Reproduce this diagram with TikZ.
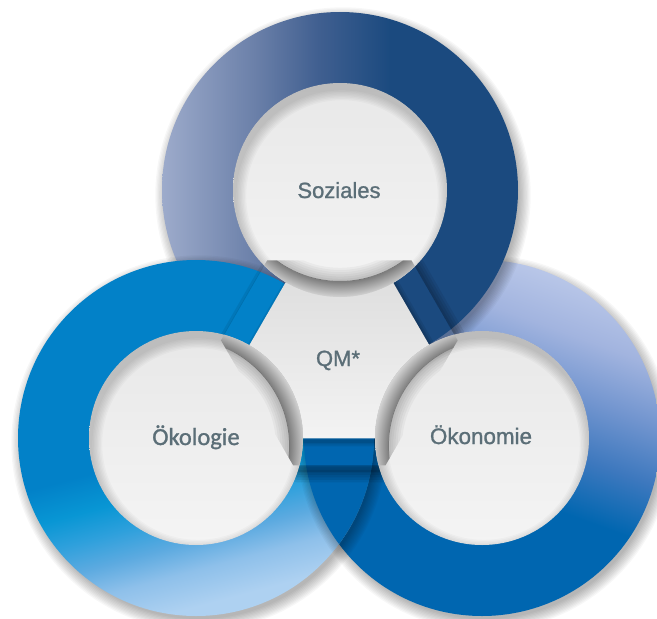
\documentclass[tikz,border=0pt]{standalone}
\usepackage{fontspec}
\setmainfont{Liberation Sans}
\newfontfamily\lblfont{Liberation Sans}[FakeBold=1.1]
\newfontfamily\calfont{Carlito}[FakeBold=1.1]
\usetikzlibrary{calc}

\definecolor{txtc}{HTML}{5B6E77}
\definecolor{tA}{HTML}{9DABCB}
\definecolor{tB}{HTML}{6B80A9}
\definecolor{tC}{HTML}{405F90}
\definecolor{tD}{HTML}{1B4A7F}
\definecolor{lA}{HTML}{AED1F1}
\definecolor{lA2}{HTML}{8EC0EA}
\definecolor{lB}{HTML}{5CAAE0}
\definecolor{lC}{HTML}{2EA0DC}
\definecolor{lD}{HTML}{0896D4}
\definecolor{lE}{HTML}{0281C8}
\definecolor{rA}{HTML}{0066B0}
\definecolor{rB}{HTML}{3D78BE}
\definecolor{rC}{HTML}{7295CF}
\definecolor{rD}{HTML}{A2B4DF}
\definecolor{rE}{HTML}{B8C6E8}
\definecolor{cD}{HTML}{7C7C7C}
\definecolor{cL}{HTML}{D4D4D4}
\definecolor{panT}{HTML}{DCDCDC}
\definecolor{panB}{HTML}{F3F3F3}
\definecolor{dT}{HTML}{E8E8E8}
\definecolor{dB}{HTML}{F4F4F4}

\pgfdeclarehorizontalshading{topring}{100bp}{color(0bp)=(tA); color(25bp)=(tA); color(38bp)=(tB); color(47bp)=(tC); color(57bp)=(tD); color(100bp)=(tD)}
\pgfdeclareverticalshading{leftring}{100bp}{color(0bp)=(lA); color(27bp)=(lA); color(32bp)=(lA2); color(36bp)=(lB); color(40bp)=(lC); color(44bp)=(lD); color(49bp)=(lE); color(100bp)=(lE)}
\pgfdeclareverticalshading{rightring}{100bp}{color(0bp)=(rA); color(44bp)=(rA); color(52bp)=(rB); color(60bp)=(rC); color(68bp)=(rD); color(75bp)=(rE); color(100bp)=(rE)}
\pgfdeclareradialshading{cres}{\pgfpointorigin}{color(0bp)=(cD); color(20.6bp)=(cD); color(23.7bp)=(cL); color(50bp)=(cL)}

\tikzset{
  lbl/.style={text=txtc, inner sep=0pt, anchor=base},
}

\newcommand{\discshadow}[2]{%
  \foreach \k in {0,...,9}{\fill[black,opacity=0.03] ($(#1)+(3,5)$) circle ({#2-2+\k*1.3});}}

\newcommand{\hole}[2]{% center, shifted center
  \shade[top color=dT, bottom color=dB] (#1) circle (107);
  \begin{scope}
    \clip (#1) circle (107);
    \foreach \k in {1,...,8}{\fill[black,opacity=0.025,even odd rule] (#1) circle (130) ($(#1)+(2,6)$) circle ({107-\k*1.4});}
    \clip (h1)--(h2)--(h3)--(h4)--(h5)--(h6)--cycle;
    \begin{scope}[even odd rule]
      \clip (#1) circle (140) (#2) circle (107);
      \shade[shading=cres] (#2) circle (130);
    \end{scope}
    \foreach \k in {1,...,6}{\fill[black,opacity=0.035,even odd rule] (#2) circle (107) (#2) circle ({107-\k*2.2});}
  \end{scope}}

\begin{document}
\begin{tikzpicture}[x=1pt,y=-1pt]
\useasboundingbox (0,0) rectangle (657,619);
\fill[white] (0,0) rectangle (657,619);
\coordinate (T) at (340,190);
\coordinate (L) at (196,438);
\coordinate (R) at (482,438);
\coordinate (C) at (339.33,355.33);
\coordinate (Tp) at (340,174);
\coordinate (Lp) at (182.14,446);
\coordinate (Rp) at (495.86,446);
% hexagon
\coordinate (h1) at ($(C)+(-127.22:119.3)$);
\coordinate (h2) at ($(C)+(-52.78:119.3)$);
\coordinate (h3) at ($(C)+(-7.22:119.3)$);
\coordinate (h4) at ($(C)+(67.22:119.3)$);
\coordinate (h5) at ($(C)+(112.78:119.3)$);
\coordinate (h6) at ($(C)+(187.22:119.3)$);
% inner panel
\coordinate (p1) at ($(C)+(-113.34:103.47)$);
\coordinate (p2) at ($(C)+(-66.66:103.47)$);
\coordinate (p3) at ($(C)+(6.66:103.47)$);
\coordinate (p4) at ($(C)+(53.34:103.47)$);
\coordinate (p5) at ($(C)+(126.66:103.47)$);
\coordinate (p6) at ($(C)+(173.34:103.47)$);

% rings (cyclic overlap: left over top over right over left)
\discshadow{R}{178}
\shade[shading=rightring, shading angle=-20] (R) circle (178);
\discshadow{T}{178}
\shade[shading=topring] (T) circle (178);
\discshadow{L}{178}
\shade[shading=leftring, shading angle=15] (L) circle (178);
\begin{scope}
  \clip (L) circle (178);
  \discshadow{R}{178}
  \shade[shading=rightring, shading angle=-20] (R) circle (178);
\end{scope}

% panel shadow outside hexagon
\begin{scope}[even odd rule]
  \clip (-10,-10) rectangle (667,629) (h1)--(h2)--(h3)--(h4)--(h5)--(h6)--cycle;
  \begin{scope}[transform canvas={shift={(4,7)}}]
    \foreach \w in {20,15,10,5}{\draw[black,opacity=0.07,line width=\w pt,line join=round] (h1)--(h2)--(h3)--(h4)--(h5)--(h6)--cycle;}
    \fill[black,opacity=0.15] (h1)--(h2)--(h3)--(h4)--(h5)--(h6)--cycle;
  \end{scope}
\end{scope}
% inner panel shadow on strips
\begin{scope}
  \clip (h1)--(h2)--(h3)--(h4)--(h5)--(h6)--cycle;
  \begin{scope}[transform canvas={shift={(2,3)}}]
    \foreach \w in {10,6,3}{\draw[black,opacity=0.08,line width=\w pt,line join=round] (p1)--(p2)--(p3)--(p4)--(p5)--(p6)--cycle;}
  \end{scope}
\end{scope}
% inner panel
\shade[top color=panT, bottom color=panB] (p1)--(p2)--(p3)--(p4)--(p5)--(p6)--cycle;

% holes
\hole{T}{Tp}
\hole{L}{Lp}
\hole{R}{Rp}

% labels
\node[lbl, font=\lblfont\fontsize{22}{24}\selectfont] (soz) at (339,198) {Soziales};
\node[lbl, font=\calfont\fontsize{24.5}{26}\selectfont] (oek) at (196,445) {Ökologie};
\node[lbl, font=\lblfont\fontsize{22.4}{24}\selectfont] (okn) at (481,444) {Ökonomie};
\node[lbl, font=\lblfont\fontsize{22}{24}\selectfont] (qm) at (338,366) {QM*};
\end{tikzpicture}
\end{document}
